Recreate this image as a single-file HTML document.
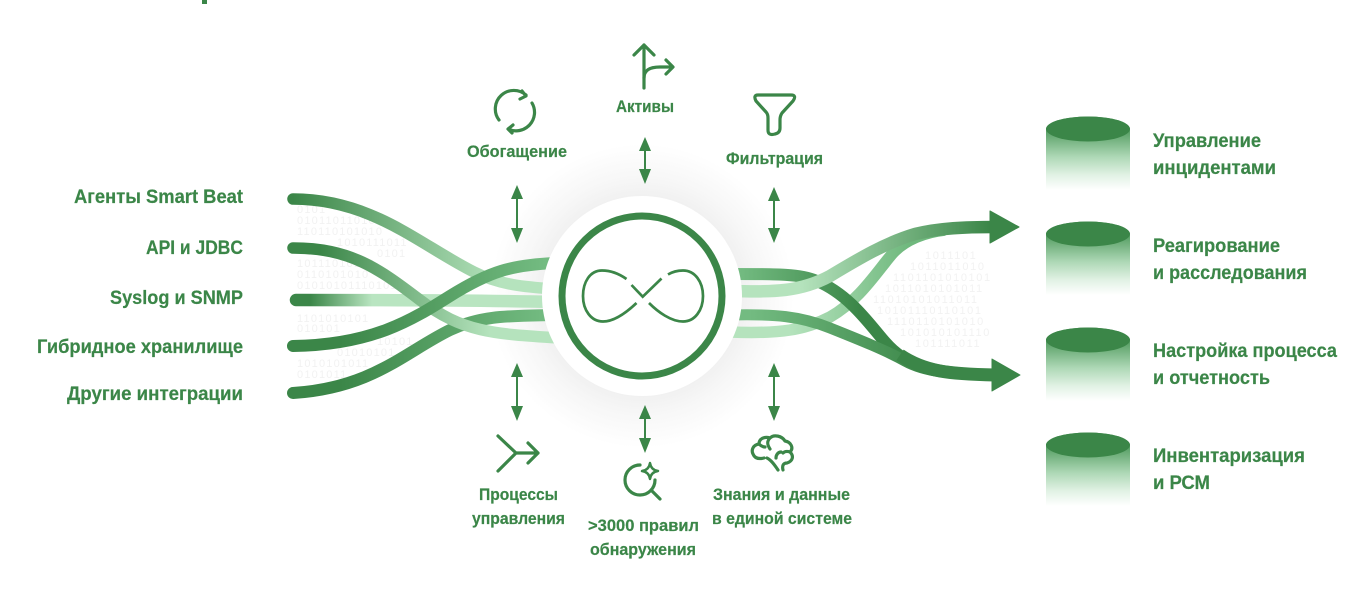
<!DOCTYPE html>
<html lang="ru"><head><meta charset="utf-8"><title>Схема</title>
<style>
html,body{margin:0;padding:0;background:#fff;width:1368px;height:601px;overflow:hidden}
svg{display:block}
text{font-family:"Liberation Sans","DejaVu Sans",sans-serif;font-weight:700;fill:#3b8648;stroke:#3b8648;stroke-width:.2px}
.l{font-size:19px}.m{font-size:16.5px}
.b{font-size:11px;font-weight:400;fill:#f2f2f2;stroke:none}
.i{fill:none;stroke:#3b8648;stroke-width:3.2;stroke-linecap:round;stroke-linejoin:round}
</style></head><body>
<svg width="1368" height="601" viewBox="0 0 1368 601" xmlns="http://www.w3.org/2000/svg">
<defs>
<radialGradient id="halo" gradientUnits="userSpaceOnUse" cx="642" cy="296" r="152">
<stop offset="0.6" stop-color="#eeeeee"/><stop offset="0.78" stop-color="#f7f7f7"/><stop offset="1" stop-color="#fff"/></radialGradient>
<linearGradient id="g1" gradientUnits="userSpaceOnUse" x1="293" y1="0" x2="500" y2="0"><stop offset="0" stop-color="#3b8648"/><stop offset="1" stop-color="#b5e3bd"/></linearGradient>
<linearGradient id="g2" gradientUnits="userSpaceOnUse" x1="320" y1="0" x2="490" y2="0"><stop offset="0" stop-color="#3b8648"/><stop offset="1" stop-color="#b5e3bd"/></linearGradient>
<linearGradient id="g3" gradientUnits="userSpaceOnUse" x1="310" y1="0" x2="372" y2="0"><stop offset="0" stop-color="#3b8648"/><stop offset="1" stop-color="#b9e5c1"/></linearGradient>
<linearGradient id="g4" gradientUnits="userSpaceOnUse" x1="340" y1="0" x2="545" y2="0"><stop offset="0" stop-color="#3b8648"/><stop offset="1" stop-color="#73bb81"/></linearGradient>
<linearGradient id="r1" gradientUnits="userSpaceOnUse" x1="740" y1="0" x2="860" y2="0"><stop offset="0" stop-color="#73bb81"/><stop offset="1" stop-color="#3b8648"/></linearGradient>
<linearGradient id="r2" gradientUnits="userSpaceOnUse" x1="800" y1="0" x2="990" y2="0"><stop offset="0" stop-color="#b5e3bd"/><stop offset="1" stop-color="#3b8648"/></linearGradient>
<linearGradient id="r3" gradientUnits="userSpaceOnUse" x1="750" y1="0" x2="930" y2="0"><stop offset="0" stop-color="#73bb81"/><stop offset="1" stop-color="#3b8648"/></linearGradient>
<linearGradient id="r4" gradientUnits="userSpaceOnUse" x1="790" y1="0" x2="910" y2="0"><stop offset="0" stop-color="#b5e3bd"/><stop offset="1" stop-color="#6fb87d"/></linearGradient>
<linearGradient id="cy" x1="0" y1="0" x2="0" y2="1"><stop offset="0" stop-color="#3b8648"/><stop offset="0.22" stop-color="#5da36a"/><stop offset="0.55" stop-color="#aed8b6"/><stop offset="0.8" stop-color="#e2f2e5"/><stop offset="1" stop-color="#fff"/></linearGradient>
<g id="cyl"><path d="M1046 0A42 12.500 0 0 1 1130 0V61H1046Z" fill="url(#cy)"/><ellipse cx="1088" cy="0" rx="42" ry="12.500" fill="#3b8648"/></g>
</defs>

<rect x="202" y="0" width="5" height="4" fill="#3b8648"/>
<circle cx="642" cy="296" r="152" fill="url(#halo)"/>

<!-- binary background, left -->
<g letter-spacing="1.2">
<text class="b" x="297" y="213">0101</text>
<text class="b" x="297" y="224">01011011010</text>
<text class="b" x="297" y="235">110110101010</text>
<text class="b" x="337" y="246">1010111011</text>
<text class="b" x="377" y="257">0101</text>
<text class="b" x="297" y="267">10111010110</text>
<text class="b" x="297" y="278">0110101010</text>
<text class="b" x="297" y="289">01010101110101</text>
<text class="b" x="297" y="322">1101010101</text>
<text class="b" x="297" y="332">010101</text>
<text class="b" x="377" y="345">10101</text>
<text class="b" x="337" y="356">01010101</text>
<text class="b" x="297" y="367">1010101011</text>
<text class="b" x="297" y="378">0101011</text>
</g>
<!-- binary background, right -->
<g letter-spacing="1.6">
<text class="b" x="925" y="259">1011101</text>
<text class="b" x="910" y="270">1011011010</text>
<text class="b" x="893" y="281">1101101010101</text>
<text class="b" x="885" y="292">1011010101011</text>
<text class="b" x="873" y="303">11010101011011</text>
<text class="b" x="877" y="314">10101110110101</text>
<text class="b" x="887" y="325">1110110101010</text>
<text class="b" x="900" y="336">101010101110</text>
<text class="b" x="915" y="347">101111011</text>
</g>

<!-- left strands -->
<g fill="none" stroke-linecap="round">
<path d="M293 393C372 388 405 352 450 330C482 315 510 316 555 315" stroke="url(#g4)" stroke-width="12"/>
<path d="M293 199C372 199 420 245 474 272C500 285 525 287 555 289" stroke="url(#g1)" stroke-width="11.500"/>
<path d="M296 300C370 300 470 300 555 302" stroke="url(#g3)" stroke-width="12.500"/>
<path d="M293 248C350 248 378 268 420 300C462 332 492 334 560 338" stroke="url(#g2)" stroke-width="11.500"/>
<path d="M293 346C372 345 412 320 450 296C490 271 512 265 555 263" stroke="url(#g4)" stroke-width="12"/>
</g>

<!-- right strands -->
<g fill="none">
<path d="M730 332C780 334 805 330 830 317C860 300 878 270 893 253C905 240 925 232 945 230" stroke="url(#r4)" stroke-width="11.500"/>
<path d="M730 274C780 274 800 274 817 281C850 295 870 325 885 342C905 365 930 374 995 375" stroke="url(#r1)" stroke-width="12"/>
<path d="M730 315C775 314 800 316 830 328C860 340 885 350 905 361C925 372 950 374 995 375" stroke="url(#r3)" stroke-width="11"/>
<path d="M900 355C925 372 950 374 995 375" stroke="#3b8648" stroke-width="13"/>
<path d="M730 291C775 292 800 292 830 276C860 258 885 243 915 234C940 228 965 227 995 227" stroke="url(#r2)" stroke-width="12.500"/>
</g>
<path d="M990 211L1019 227L990 243Z" fill="#3b8648" stroke="#3b8648" stroke-width="1" stroke-linejoin="round"/>
<path d="M992 359L1020 375L992 391Z" fill="#3b8648" stroke="#3b8648" stroke-width="1" stroke-linejoin="round"/>

<!-- centre -->
<circle cx="642" cy="296" r="100" fill="#fff"/>
<circle cx="642" cy="296" r="80" fill="none" stroke="#3b8648" stroke-width="7"/>
<g fill="none" stroke="#3b8648" stroke-width="2.700">
<path d="M626.500 279C618 273 610 270.500 602 270.500C590 270.500 583 282 583 296C583 310 591 321.500 603 321.500C615 321.500 627 312 636.500 303"/>
<path d="M668 274.500C673 271.500 678 270.500 683 270.500C695 270.500 703 282 703 296C703 310 695 321.500 683 321.500C671 321.500 658 312 649 303"/>
<path d="M631.500 285L642.700 296.700L661.500 278.500"/>
</g>

<!-- double arrows -->
<g fill="#3b8648" stroke="#3b8648">
<g stroke-width="2"><path d="M517 195V232M517 373V410M645 147V174M645 415V443M774 197V232M774 373V410" fill="none"/></g>
<g stroke="none">
<path d="M517 185L523 199H511Z"/><path d="M517 243L523 228H511Z"/>
<path d="M517 363L523 377H511Z"/><path d="M517 421L523 406H511Z"/>
<path d="M645 137L651 151H639Z"/><path d="M645 184L651 169H639Z"/>
<path d="M645 405L651 419H639Z"/><path d="M645 453L651 438H639Z"/>
<path d="M774 187L780 201H768Z"/><path d="M774 243L780 228H768Z"/>
<path d="M774 363L780 377H768Z"/><path d="M774 421L780 406H768Z"/>
</g></g>

<!-- icons -->
<g class="i">
<path d="M644 88V45M634 55L644 45L654 55"/>
<path d="M644 78C644 70 650 67 660 67H672M666 60L673 67L666 74"/>
<path d="M499 120A18.500 18.500 0 0 1 526 95M522 91L526 96L520 99"/>
<path d="M532 103A18.500 18.500 0 0 1 508 129M512 133L508 129L513 125"/>
<path d="M758 95H791Q797 95 793 101L782 113Q780 116 780 120V128Q780 133 775 134Q768 136 768 130V118Q768 114 766 112L756 101Q753 95 758 95Z"/>
<path d="M498 436L516 453L498 471M516 453H538M528 443L538 453L528 463"/>
<path d="M640 465A15 15 0 1 0 655 480M651 490L660 499"/>
<path d="M650 463Q651 470 658 471Q651 472 650 479Q649 472 642 471Q649 470 650 463Z" stroke-width="2.500"/>
<path d="M783 470C782 466 783 463 787 463C793 461 794 456 790 452C794 448 791 442 785 441C782 436 774 434 770 438C764 436 759 439 759 444C753 445 751 450 753 454C755 459 760 459 764 458M759 444C761 446 763 447 765 447M770 438C766 442 768 446 770 449M767 458C771 460 774 464 778 470M781 452C778 452 776 455 776 458M790 452C787 451 785 451 783 453"/>
</g>

<!-- left labels -->
<g class="l">
<text x="74" y="203" textLength="169" lengthAdjust="spacingAndGlyphs">Агенты Smart Beat</text>
<text x="146" y="254" textLength="97" lengthAdjust="spacingAndGlyphs">API и JDBC</text>
<text x="110" y="304" textLength="133" lengthAdjust="spacingAndGlyphs">Syslog и SNMP</text>
<text x="37" y="353" textLength="206" lengthAdjust="spacingAndGlyphs">Гибридное хранилище</text>
<text x="67" y="400" textLength="176" lengthAdjust="spacingAndGlyphs">Другие интеграции</text>
</g>

<!-- centre labels -->
<g class="m">
<text x="616" y="112" textLength="58" lengthAdjust="spacingAndGlyphs">Активы</text>
<text x="467" y="157" textLength="100" lengthAdjust="spacingAndGlyphs">Обогащение</text>
<text x="726" y="164" textLength="97" lengthAdjust="spacingAndGlyphs">Фильтрация</text>
<text x="479" y="500" textLength="79" lengthAdjust="spacingAndGlyphs">Процессы</text>
<text x="472" y="524" textLength="93" lengthAdjust="spacingAndGlyphs">управления</text>
<text x="588" y="531" textLength="111" lengthAdjust="spacingAndGlyphs">&gt;3000 правил</text>
<text x="590" y="555" textLength="106" lengthAdjust="spacingAndGlyphs">обнаружения</text>
<text x="713" y="500" textLength="137" lengthAdjust="spacingAndGlyphs">Знания и данные</text>
<text x="712" y="524" textLength="140" lengthAdjust="spacingAndGlyphs">в единой системе</text>
</g>

<!-- cylinders -->
<use href="#cyl" y="129"/>
<use href="#cyl" y="234"/>
<use href="#cyl" y="340"/>
<use href="#cyl" y="445"/>

<!-- right labels -->
<g class="l">
<text x="1153" y="147" textLength="108" lengthAdjust="spacingAndGlyphs">Управление</text>
<text x="1153" y="174" textLength="123" lengthAdjust="spacingAndGlyphs">инцидентами</text>
<text x="1153" y="252" textLength="127" lengthAdjust="spacingAndGlyphs">Реагирование</text>
<text x="1153" y="279" textLength="154" lengthAdjust="spacingAndGlyphs">и расследования</text>
<text x="1153" y="357" textLength="184" lengthAdjust="spacingAndGlyphs">Настройка процесса</text>
<text x="1153" y="384" textLength="117" lengthAdjust="spacingAndGlyphs">и отчетность</text>
<text x="1153" y="462" textLength="152" lengthAdjust="spacingAndGlyphs">Инвентаризация</text>
<text x="1153" y="489" textLength="57" lengthAdjust="spacingAndGlyphs">и РСМ</text>
</g>
</svg>
</body></html>
